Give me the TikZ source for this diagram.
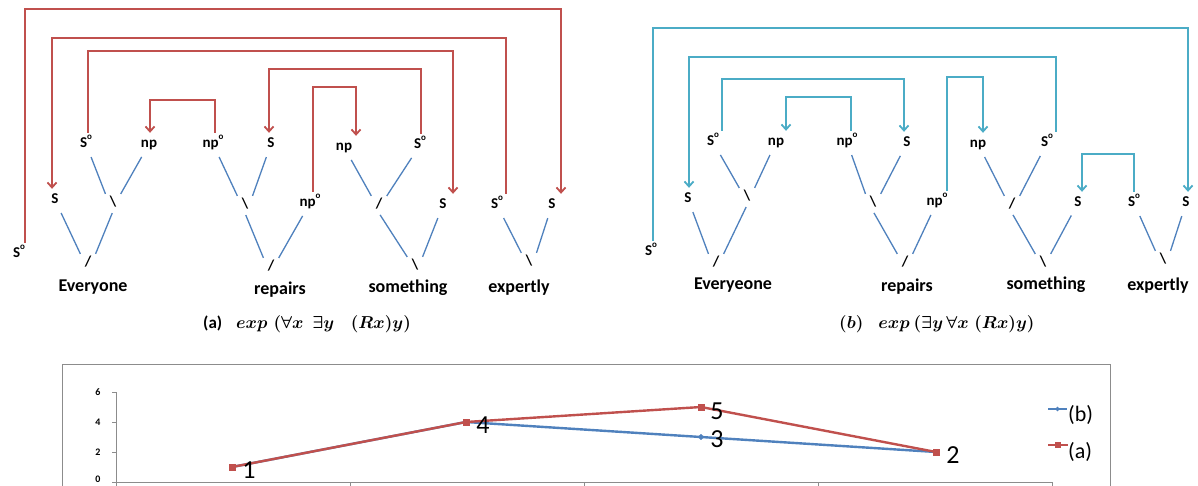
\documentclass[tikz,border=0pt]{standalone}
\usepackage{amsmath}
\usepackage{bm}
\usepackage{fontspec}
\setmainfont{Carlito}
\usetikzlibrary{arrows.meta,calc,shapes.geometric}
\definecolor{arred}{HTML}{C0504D}
\definecolor{arteal}{HTML}{4BACC6}
\definecolor{edgeblue}{HTML}{4F81BD}
\definecolor{boxgray}{HTML}{8C8C8C}
\newcommand\dg{\raisebox{0.5em}{\fontsize{9}{9}\selectfont o}}
\newcommand\brk[6]{\draw[#1] let \p1=([xshift=#3]#2.north), \p2=([xshift=#6]#5.north) in (\p1) -- (\x1,-#4pt) -- (\x2,-#4pt) -- (\p2);}
\tikzset{
 lab/.style={font=\fontsize{15}{17}\selectfont\bfseries, text height=8pt, text depth=2pt, inner xsep=2pt, inner ysep=6pt},
 sl/.style={font=\fontsize{15}{17}\selectfont\bfseries, text height=8pt, text depth=2pt, inner sep=0pt, minimum width=14pt, minimum height=16pt},
 word/.style={font=\fontsize{18}{21}\selectfont\bfseries, inner sep=0pt},
 edge/.style={draw=edgeblue, line width=1.3pt, shorten <=2pt, shorten >=1pt},
 redarr/.style={draw=arred, line width=1.8pt, -{Straight Barb[length=5pt,width=9pt]}},
 tealarr/.style={draw=arteal, line width=1.8pt, -{Straight Barb[length=5pt,width=9pt]}},
 captext/.style={font=\fontsize{17}{20}\selectfont\boldmath, inner sep=0pt, anchor=west},
 axisline/.style={draw=boxgray, line width=1pt},
 ticklab/.style={font=\fontsize{10}{12}\selectfont\bfseries, inner sep=0pt},
 datalab/.style={font=\fontsize{26}{30}\selectfont, inner sep=0pt},
 leglab/.style={font=\fontsize{22}{26}\selectfont, inner sep=0pt, anchor=west},
 bline/.style={draw=edgeblue, line width=2.4pt},
 rline/.style={draw=arred, line width=2.4pt},
 bmark/.style={diamond, fill=edgeblue, inner sep=0pt, minimum size=6pt},
 rmark/.style={rectangle, fill=arred, inner sep=0pt, minimum size=7pt}
}
\begin{document}
\begin{tikzpicture}[x=1pt,y=-1pt]
\useasboundingbox (0,0) rectangle (1198,485);
\clip (0,0) rectangle (1198,485);
\fill[white] (0,0) rectangle (1198,485);
% ---------- left tree (a)
\node[lab] (Ls0) at (19,254) {S\dg};
\node[lab] (Ls) at (55,200) {S};
\node[lab] (Ls0E) at (86,144) {S\dg};
\node[lab] (Lnp) at (149,144) {np};
\node[lab] (Lnp0) at (213,144) {np\dg};
\node[lab] (Lsr) at (271,144) {S};
\node[lab] (Lnp0r) at (310,203) {np\dg};
\node[lab] (Lnps) at (344,147) {np};
\node[lab] (Ls0s) at (420,145) {S\dg};
\node[lab] (Lss) at (443,205) {S};
\node[lab] (Ls0x) at (497,205) {S\dg};
\node[lab] (Lsx) at (552,205) {S};
\node[sl] (LbE) at (113,203) {\textbackslash};
\node[sl] (LfE) at (88,263) {/};
\node[sl] (Lbr) at (245,205) {\textbackslash};
\node[sl] (Lfr) at (271,267) {/};
\node[sl] (Lfs) at (379,205) {/};
\node[sl] (Lbs) at (415,266) {\textbackslash};
\node[sl] (Lbx) at (529,262) {\textbackslash};
\node[word] (LwE) at (93,287) {Everyone};
\node[word] (Lwr) at (280,290) {repairs};
\node[word] (Lws) at (408,288) {something};
\node[word] (Lwx) at (519,288) {expertly};
\draw[edge] (Ls) -- (LfE.north west);
\draw[edge] (LbE.south) -- (LfE.north east);
\draw[edge] (Ls0E) -- (LbE.north west);
\draw[edge] (Lnp) -- (LbE.north east);
\draw[edge] (Lnp0) -- (Lbr.north west);
\draw[edge] (Lsr) -- (Lbr.north east);
\draw[edge] (Lbr.south) -- (Lfr.north west);
\draw[edge] (Lnp0r) -- (Lfr.north east);
\draw[edge] (Lnps) -- (Lfs.north west);
\draw[edge] (Ls0s) -- (Lfs.north east);
\draw[edge] (Lfs.south) -- (Lbs.north west);
\draw[edge] (Lss) -- (Lbs.north east);
\draw[edge] (Ls0x) -- (Lbx.north west);
\draw[edge] (Lsx) -- (Lbx.north east);
\brk{redarr}{Ls0}{6pt}{9}{Lsx}{9pt}
\brk{redarr}{Ls0x}{9pt}{38}{Ls}{-3pt}
\brk{redarr}{Ls0E}{2pt}{51}{Lss}{10pt}
\brk{redarr}{Ls0s}{1pt}{69}{Lsr}{-2pt}
\brk{redarr}{Lnp0}{2pt}{100}{Lnp}{1pt}
\brk{redarr}{Lnp0r}{3pt}{87}{Lnps}{12pt}
% ---------- right tree (b)
\node[lab] (Rs0) at (651,252) {S\dg};
\node[lab] (Rs) at (688,199) {S};
\node[lab] (Rs0E) at (713,142) {S\dg};
\node[lab] (Rnp) at (776,142) {np};
\node[lab] (Rnp0) at (847,142) {np\dg};
\node[lab] (Rsr) at (907,143) {S};
\node[lab] (Rnp0r) at (937,202) {np\dg};
\node[lab] (Rnps) at (978,144) {np};
\node[lab] (Rs0s) at (1047,143) {S\dg};
\node[lab] (Rss) at (1078,203) {S};
\node[lab] (Rs0x) at (1134,203) {S\dg};
\node[lab] (Rsx) at (1186,203) {S};
\node[sl] (RbE) at (747,197) {\textbackslash};
\node[sl] (RfE) at (716,263) {/};
\node[sl] (Rbr) at (873,203) {\textbackslash};
\node[sl] (Rfr) at (905,263) {/};
\node[sl] (Rfs) at (1012,205) {/};
\node[sl] (Rbs) at (1043,263) {\textbackslash};
\node[sl] (Rbx) at (1163,260) {\textbackslash};
\node[word] (RwE) at (733,285) {Everyeone};
\node[word] (Rwr) at (907,287) {repairs};
\node[word] (Rws) at (1046,285) {something};
\node[word] (Rwx) at (1158,286) {expertly};
\draw[edge] (Rs) -- (RfE.north west);
\draw[edge] (RbE.south) -- (RfE.north east);
\draw[edge] (Rs0E) -- (RbE.north west);
\draw[edge] (Rnp) -- (RbE.north east);
\draw[edge] (Rnp0) -- (Rbr.north west);
\draw[edge] (Rsr) -- (Rbr.north east);
\draw[edge] (Rbr.south) -- (Rfr.north west);
\draw[edge] (Rnp0r) -- (Rfr.north east);
\draw[edge] (Rnps) -- (Rfs.north west);
\draw[edge] (Rs0s) -- (Rfs.north east);
\draw[edge] (Rfs.south) -- (Rbs.north west);
\draw[edge] (Rss) -- (Rbs.north east);
\draw[edge] (Rs0x) -- (Rbx.north west);
\draw[edge] (Rsx) -- (Rbx.north east);
\brk{tealarr}{Rs0}{2pt}{28}{Rsx}{2pt}
\brk{tealarr}{Rs0s}{9pt}{57}{Rs}{1pt}
\brk{tealarr}{Rs0E}{9pt}{79}{Rsr}{-3pt}
\brk{tealarr}{Rnp0}{4pt}{97}{Rnp}{10pt}
\brk{tealarr}{Rnp0r}{10pt}{77}{Rnps}{5pt}
\brk{tealarr}{Rs0x}{0pt}{154}{Rss}{4pt}
% ---------- captions
\node[captext] (capA) at (203,324) {\textbf{(a)}\hspace{14pt}$exp$\hspace{6pt}$(\forall x\;\,\exists y\;\;\;(Rx)y)$};
\node[captext] (capB) at (839,324) {$(b)$\hspace{15pt}$exp$\hspace{4pt}$(\exists y\,\forall x\;(Rx)y)$};
% ---------- chart
\draw[axisline] (62,364) rectangle (1110,500);
\draw[axisline] (116,392) -- (116,482) -- (1052,482);
\foreach \yy in {392,422,452,482} \draw[axisline] (112,\yy) -- (116,\yy);
\foreach \xx in {116,350,584,818,1052} \draw[axisline] (\xx,482) -- (\xx,490);
\node[ticklab] (t6) at (98,392) {6};
\node[ticklab] (t4) at (98,422) {4};
\node[ticklab] (t2) at (98,452) {2};
\node[ticklab] (t0) at (98,479) {0};
\node[bmark] (b1) at (232,467) {};
\node[bmark] (b2) at (466,422) {};
\node[bmark] (b3) at (701,437) {};
\node[bmark] (b4) at (936,452) {};
\draw[bline] (b1.center) -- (b2.center) -- (b3.center) -- (b4.center);
\node[bmark] (b3m) at (b3) {};
\draw[rline] (232,467) coordinate (r1c) -- (466,422) coordinate (r2c) -- (701,407) coordinate (r3c) -- (936,452) coordinate (r4c);
\node[rmark] (r1) at (r1c) {};
\node[rmark] (r2) at (r2c) {};
\node[rmark] (r3) at (r3c) {};
\node[rmark] (r4) at (r4c) {};
\node[datalab] (d1) at (249,470) {1};
\node[datalab] (d4) at (483,425) {4};
\node[datalab] (d5) at (717,411) {5};
\node[datalab] (d3) at (717,439) {3};
\node[datalab] (d2) at (953,455) {2};
\coordinate (lb1) at (1048,409);
\coordinate (lb2) at (1067,409);
\draw[bline,line width=2pt] (lb1) -- (lb2);
\node[bmark,minimum size=5pt] (lbm) at ($(lb1)!0.5!(lb2)$) {};
\node[leglab] (lbt) at (1068,415) {(b)};
\coordinate (la1) at (1048,445);
\coordinate (la2) at (1068,445);
\draw[rline,line width=2pt] (la1) -- (la2);
\node[rmark,minimum size=6pt] (lam) at ($(la1)!0.5!(la2)$) {};
\node[leglab] (lat) at (1068,452) {(a)};
\end{tikzpicture}
\end{document}
